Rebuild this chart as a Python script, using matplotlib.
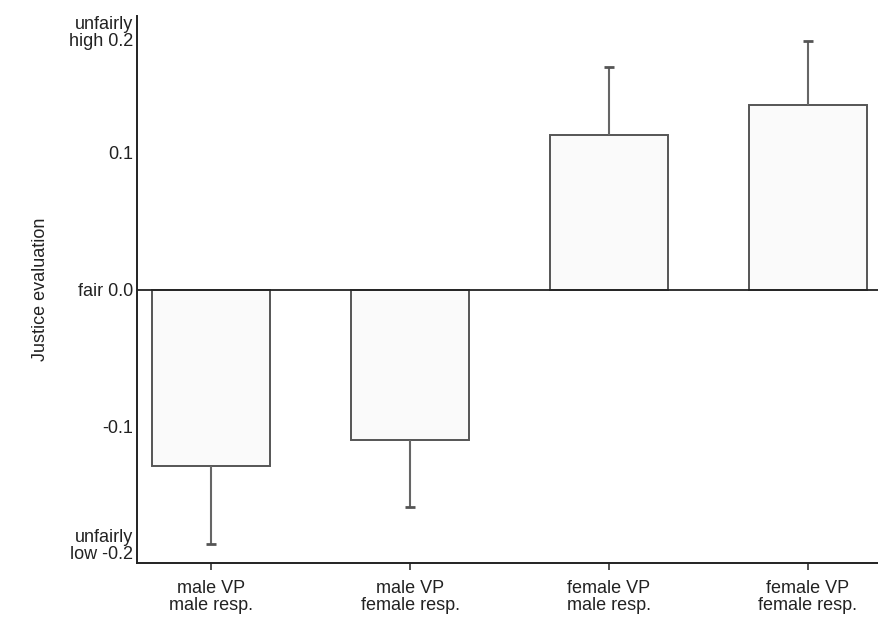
import matplotlib.pyplot as plt
import numpy as np

# Data
groups = ["male VP\nmale resp.", "male VP\nfemale resp.",
          "female VP\nmale resp.", "female VP\nfemale resp."]
means = [-0.129, -0.110, 0.113, 0.135]
errors = [0.057, 0.049, 0.050, 0.047]

ytick_vals = [-0.2, -0.1, 0.0, 0.1, 0.2]
ytick_labels = ["unfairly\nlow -0.2", "-0.1", "fair 0.0", "0.1", "unfairly\nhigh 0.2"]

plt.rcParams["font.family"] = ["Liberation Sans", "DejaVu Sans"]

fig = plt.figure(figsize=(8.79, 6.26), dpi=100)
ax = fig.add_axes([0.156, 0.1006, 0.844, 0.8738])

x = np.arange(len(groups))
means_arr = np.array(means)
err_arr = np.array(errors)
# error bars point away from zero only
tips = means_arr + np.sign(means_arr) * err_arr

ax.bar(x, means, width=0.593, color="#fafafa", edgecolor="#555555",
       linewidth=1.4, zorder=2)
ax.vlines(x, means_arr, tips, color="#666666", linewidth=1.5, zorder=3)
ax.plot(x, tips, linestyle="none", marker="_", markersize=7,
        markeredgewidth=2.0, color="#555555", zorder=3)
ax.axhline(0, color="#222222", linewidth=1.3, zorder=4)

ax.set_xlim(-0.372, 3.357)
ax.set_ylim(-0.2, 0.2)

ax.set_xticks(x)
ax.set_xticklabels(groups, fontsize=13, color="#222222", linespacing=1.05)
ax.set_yticks(ytick_vals)
ax.set_yticklabels(ytick_labels, fontsize=13, color="#222222", linespacing=1.0)
for lbl in ax.get_yticklabels():
    txt = lbl.get_text()
    if "high" in txt:
        lbl.set_verticalalignment("top")
    elif "low" in txt:
        lbl.set_verticalalignment("bottom")

ax.tick_params(axis="y", length=0, pad=3)
ax.tick_params(axis="x", length=5, width=1.2, color="#333333", pad=7)

ax.set_ylabel("Justice evaluation", fontsize=13, color="#222222", labelpad=14)

for side in ["top", "right"]:
    ax.spines[side].set_visible(False)
for side in ["left", "bottom"]:
    ax.spines[side].set_linewidth(1.4)
    ax.spines[side].set_color("#222222")

fig.savefig("out.png", dpi=100)
